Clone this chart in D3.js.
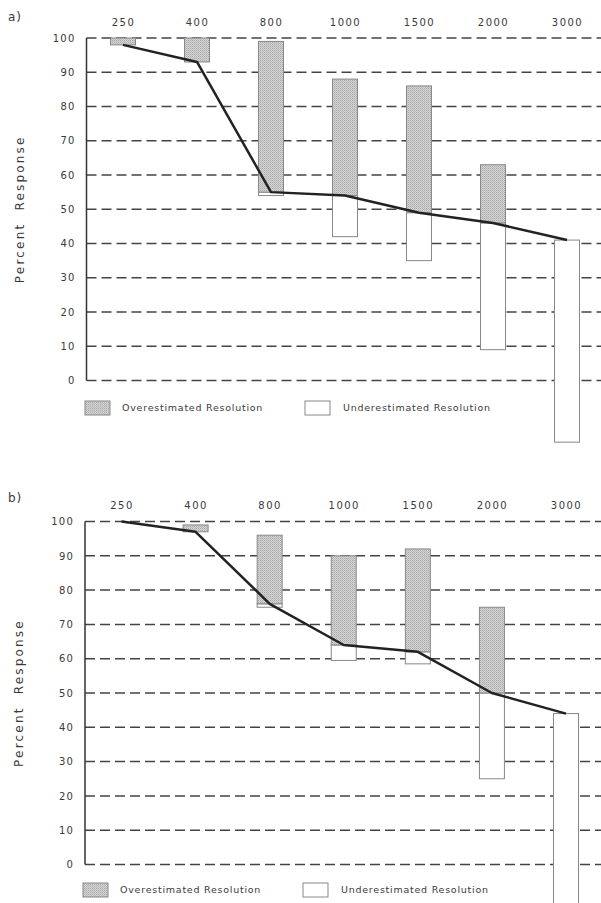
<!DOCTYPE html>
<html>
<head>
<meta charset="utf-8">
<script src="https://cdn.jsdelivr.net/npm/d3@7"></script>
<style>
  body { margin: 0; background: #fff; }
  svg { display: block; }
  text { font-family: "DejaVu Sans", sans-serif; fill: #3a3a3a; }
</style>
</head>
<body>
<div id="chart"></div>
<script>
// categories (x axis labels along the top)
const categories = ['250', '400', '800', '1000', '1500', '2000', '3000'];
const yTicks = [0, 10, 20, 30, 40, 50, 60, 70, 80, 90, 100];

// panel a)
const lineA = [98, 93, 55, 54, 49, 46, 41];
const overTopA = [100, 100, 99, 88, 86, 63, null];
const underBottomA = [null, null, 54, 42, 35, 9, -18];

// panel b)
const lineB = [100, 97, 76, 64, 62, 50, 44];
const overTopB = [null, 99, 96, 90, 92, 75, null];
const underBottomB = [null, null, 75, 59.5, 58.5, 25, -13];

const W = 601, H = 903;

const svg = d3.select('#chart').append('svg')
    .attr('width', W)
    .attr('height', H);

// stipple pattern for the grey bars
const defs = svg.append('defs');
const pat = defs.append('pattern')
    .attr('id', 'stipple')
    .attr('width', 2).attr('height', 2)
    .attr('patternUnits', 'userSpaceOnUse');
pat.append('rect').attr('width', 2).attr('height', 2).attr('fill', '#d4d4d4');
pat.append('rect').attr('width', 1).attr('height', 1).attr('fill', '#a9a9a9');
pat.append('rect').attr('x', 1).attr('y', 1).attr('width', 1).attr('height', 1).attr('fill', '#bdbdbd');

function drawPanel(opts) {
    const g = svg.append('g');

    const x = d3.scalePoint().domain(categories).range([opts.xFirst, opts.xLast]);
    const y = d3.scaleLinear().domain([0, 100]).range([opts.y0, opts.y100]);
    const barW = 25;

    // panel letter
    g.append('text')
        .attr('x', opts.letterX).attr('y', opts.letterY)
        .style('font-size', '12px')
        .style('letter-spacing', '1px')
        .text(opts.letter);

    // tick labels
    const yAxis = d3.axisLeft(y).tickValues(yTicks).tickSize(0).tickPadding(10);
    const ya = g.append('g')
        .attr('transform', `translate(${opts.axisX},0)`)
        .call(yAxis);
    ya.select('.domain').remove();
    ya.selectAll('text')
        .attr('x', -11)
        .style('font-size', '10px')
        .style('letter-spacing', '1.2px')
        .style('fill', '#3a3a3a');

    // dashed gridlines
    g.append('g').selectAll('line')
        .data(yTicks)
        .join('line')
        .attr('x1', opts.axisX).attr('x2', W)
        .attr('y1', d => y(d)).attr('y2', d => y(d))
        .attr('stroke', '#444')
        .attr('stroke-width', 1.5)
        .attr('stroke-dasharray', '10,5');

    // vertical axis line
    g.append('line')
        .attr('x1', opts.axisX).attr('x2', opts.axisX)
        .attr('y1', y(100)).attr('y2', y(0))
        .attr('stroke', '#333')
        .attr('stroke-width', 1.5);

    // category labels along the top
    const xa = g.append('g')
        .attr('transform', `translate(0,${opts.catY})`)
        .call(d3.axisTop(x).tickSize(0).tickPadding(0));
    xa.select('.domain').remove();
    xa.selectAll('text')
        .style('font-size', '10px')
        .style('letter-spacing', '1.5px')
        .style('fill', '#3a3a3a');

    // underestimated (white) bars
    const under = categories.map((c, i) => ({ c, top: opts.line[i], bottom: opts.under[i] }))
        .filter(d => d.bottom !== null);
    g.append('g').selectAll('rect')
        .data(under)
        .join('rect')
        .attr('x', d => x(d.c) - barW / 2)
        .attr('width', barW)
        .attr('y', d => y(d.top))
        .attr('height', d => y(d.bottom) - y(d.top))
        .attr('fill', '#fff')
        .attr('stroke', '#888')
        .attr('stroke-width', 1);

    // overestimated (grey) bars
    const over = categories.map((c, i) => ({ c, top: opts.over[i], bottom: opts.line[i] }))
        .filter(d => d.top !== null);
    g.append('g').selectAll('rect')
        .data(over)
        .join('rect')
        .attr('x', d => x(d.c) - barW / 2)
        .attr('width', barW)
        .attr('y', d => y(d.top))
        .attr('height', d => y(d.bottom) - y(d.top))
        .attr('fill', 'url(#stipple)')
        .attr('stroke', '#888')
        .attr('stroke-width', 1);

    // mean response line
    const line = d3.line()
        .x((d, i) => x(categories[i]))
        .y(d => y(d));
    g.append('path')
        .datum(opts.line)
        .attr('d', line)
        .attr('fill', 'none')
        .attr('stroke', '#222')
        .attr('stroke-width', 2.5)
        .attr('stroke-linejoin', 'round');

    // y axis title
    g.append('text')
        .attr('transform', `translate(${opts.titleX},${(y(100) + y(0)) / 2}) rotate(-90)`)
        .attr('text-anchor', 'middle')
        .attr('dy', '0.35em')
        .style('font-size', '12px')
        .style('letter-spacing', '2.2px')
        .style('white-space', 'pre')
        .text('Percent  Response');

    // legend
    const lg = g.append('g').attr('transform', `translate(0,${opts.legendY})`);
    lg.append('rect')
        .attr('x', opts.legendX).attr('y', -7)
        .attr('width', 25).attr('height', 14)
        .attr('fill', 'url(#stipple)')
        .attr('stroke', '#888');
    lg.append('text')
        .attr('x', opts.legendX + 37).attr('dy', '0.35em')
        .style('font-size', '9.5px')
        .style('letter-spacing', '0.75px')
        .text('Overestimated Resolution');
    lg.append('rect')
        .attr('x', opts.legendX + 220).attr('y', -7)
        .attr('width', 25).attr('height', 14)
        .attr('fill', '#fff')
        .attr('stroke', '#888');
    lg.append('text')
        .attr('x', opts.legendX + 258).attr('dy', '0.35em')
        .style('font-size', '9.5px')
        .style('letter-spacing', '0.75px')
        .text('Underestimated Resolution');
}

drawPanel({
    letter: 'a)', letterX: 8, letterY: 21,
    line: lineA, over: overTopA, under: underBottomA,
    xFirst: 123, xLast: 567, axisX: 86.5,
    y100: 38, y0: 380.5, catY: 26,
    titleX: 20, legendX: 85, legendY: 408
});

drawPanel({
    letter: 'b)', letterX: 8, letterY: 502,
    line: lineB, over: overTopB, under: underBottomB,
    xFirst: 121.5, xLast: 566, axisX: 85,
    y100: 521.5, y0: 864.5, catY: 509,
    titleX: 19, legendX: 83, legendY: 890
});
</script>
</body>
</html>
